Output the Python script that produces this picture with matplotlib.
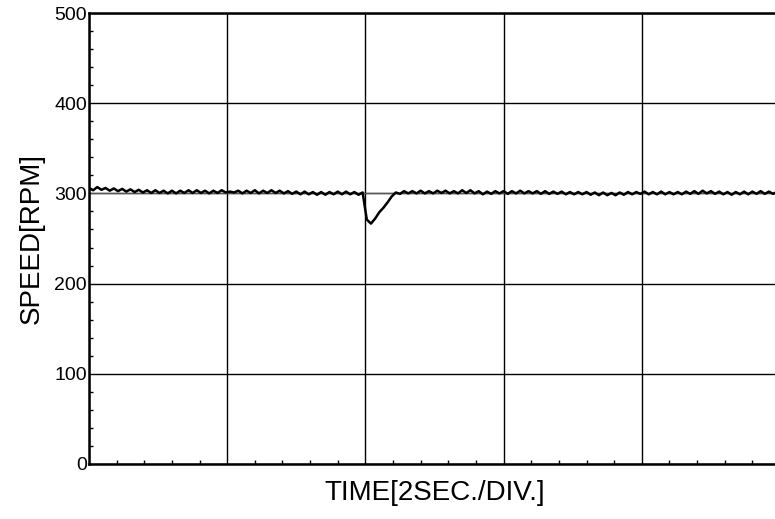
import numpy as np
import matplotlib.pyplot as plt
from matplotlib.ticker import MultipleLocator

plt.rcParams['font.family'] = ['Liberation Sans', 'DejaVu Sans']

# speed samples every 0.06 s, 0 .. 9.96 s
dt = 0.06
speed_start = [306.0, 303.5, 307.0, 304.0, 306.0, 303.0, 305.5, 302.5, 305.0, 302.0,
               304.5, 301.5, 304.0, 301.0, 303.5, 300.5, 303.5, 300.5, 303.0, 300.0,
               303.0, 300.0, 303.0, 300.5, 303.5, 300.5, 303.5, 300.5, 303.0, 300.0,
               303.0, 300.5, 303.5, 301.0]
speed_before_load = [302.0, 301.0, 303.0, 300.0, 303.0, 300.5, 303.5, 300.0, 303.0, 300.5,
                     303.5, 300.5, 303.0, 300.0, 302.5, 299.5, 302.0, 299.0, 302.0, 299.0,
                     301.5, 298.5, 301.5, 298.5, 301.5, 299.0, 302.0, 299.0, 302.0, 299.0,
                     301.5, 298.5, 301.0]
speed_dip = [271.0, 266.5, 272.0, 279.0, 284.0, 290.0, 296.5, 301.0]
speed_recover = [299.5, 302.5, 300.0, 302.5, 300.0, 303.0, 300.0, 302.5, 300.0, 303.0,
                 300.5, 303.0, 300.0, 302.5, 300.0, 303.5, 300.5, 303.5, 300.0, 302.5,
                 299.0, 302.0, 299.5, 302.5, 300.0, 302.5]
speed_mid = [299.5, 302.5, 300.0, 303.0, 300.0, 302.5, 300.0, 302.5, 299.5, 302.5,
             299.5, 302.0, 299.5, 302.0, 299.0, 301.5, 299.0, 301.5, 299.0, 301.5,
             298.5, 301.0, 298.0, 301.0, 298.0, 300.5, 298.0, 301.0, 298.5, 301.5,
             299.0, 301.5, 299.5]
speed_end = [302.0, 299.0, 301.5, 299.0, 302.0, 299.0, 301.5, 299.0, 301.5, 299.0,
             302.0, 299.5, 302.5, 299.5, 303.0, 300.0, 302.5, 299.5, 302.0, 299.0,
             301.5, 298.5, 301.5, 299.0, 302.0, 299.0, 302.0, 299.5, 302.5, 299.5,
             302.0, 299.5, 302.0]
speed = speed_start + speed_before_load + speed_dip + speed_recover + speed_mid + speed_end
t = np.arange(len(speed)) * dt

ref_speed = 300
y_ticks = [0, 100, 200, 300, 400, 500]

fig = plt.figure(figsize=(7.75, 5.19), dpi=100)
# axes run past the right edge, as in the original scan
ax = fig.add_axes([89 / 775, 55 / 519, 691 / 775, 451 / 519])

ax.axhline(ref_speed, color='#555555', lw=0.9, zorder=2)
ax.plot(t, speed, color='black', lw=1.8, zorder=3)

ax.set_xlim(0, 10)
ax.set_ylim(0, 500)
ax.set_yticks(y_ticks)
ax.set_xticks([0, 2, 4, 6, 8, 10])
ax.set_xticklabels([])
ax.xaxis.set_minor_locator(MultipleLocator(0.4))
ax.yaxis.set_minor_locator(MultipleLocator(20))
ax.tick_params(axis='both', which='major', length=0, labelsize=14, pad=1.5)
ax.tick_params(axis='both', which='minor', direction='in', length=3, width=1)
ax.tick_params(axis='x', which='minor', top=False)
ax.tick_params(axis='y', which='minor', right=False)
ax.grid(True, which='major', color='black', lw=1)

for s in ax.spines.values():
    s.set_linewidth(1.8)

ax.set_xlabel('TIME[2SEC./DIV.]', fontsize=20, labelpad=8)
ax.set_ylabel('SPEED[RPM]', fontsize=20, labelpad=7)

fig.savefig('out.png', dpi=100)
